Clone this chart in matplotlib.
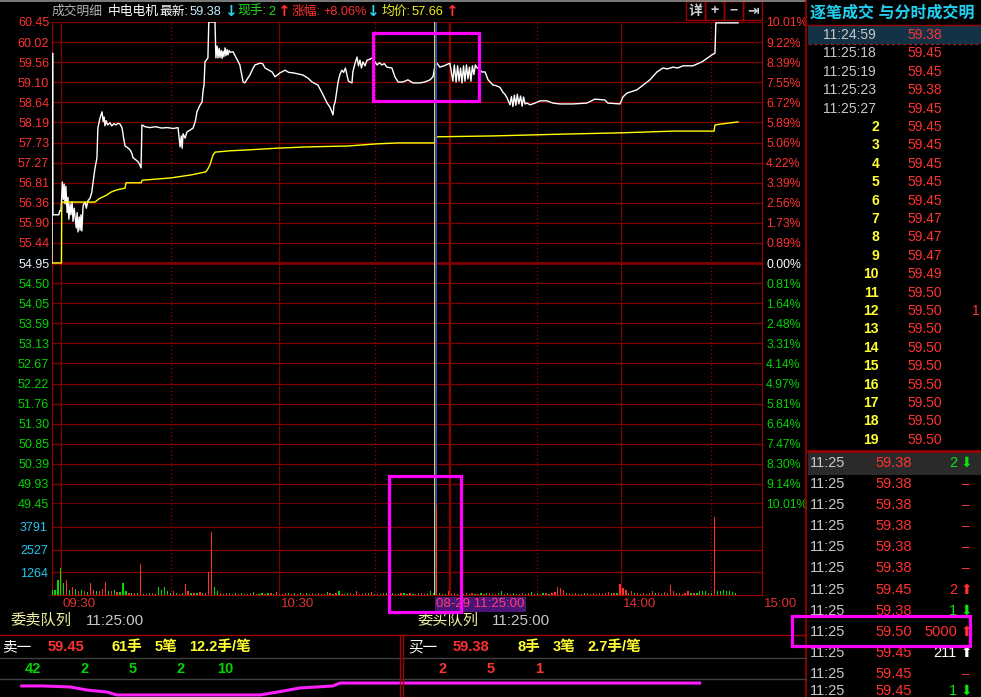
import matplotlib
matplotlib.use('Agg')
import numpy as np
import matplotlib.pyplot as plt
from matplotlib.patches import Rectangle

plt.rcParams['font.family'] = ['Liberation Sans', 'Noto Sans CJK SC', 'DejaVu Sans']

W, H = 981, 697

# ---------------- data ----------------
prev_close = 54.95
price_labels = ['60.45', '60.02', '59.56', '59.10', '58.64', '58.19', '57.73', '57.27',
                '56.81', '56.36', '55.90', '55.44', '54.95', '54.50', '54.05', '53.59',
                '53.13', '52.67', '52.22', '51.76', '51.30', '50.85', '50.39', '49.93', '49.45']
pct_labels = ['10.01%', '9.22%', '8.39%', '7.55%', '6.72%', '5.89%', '5.06%', '4.22%',
              '3.39%', '2.56%', '1.73%', '0.89%', '0.00%', '0.81%', '1.64%', '2.48%',
              '3.31%', '4.14%', '4.97%', '5.81%', '6.64%', '7.47%', '8.30%', '9.14%', '10.01%']
vol_ticks = [1264, 2527, 3791]

# time axis in "minute index" units (0..240)
time_solid = [3.0, 76.7, 192.3]
time_dotted = [40.2, 109.2, 163.9, 222.7]
noon_break = 134.5
time_labels = [(3.0, '09:30'), (76.7, '10:30'), (192.3, '14:00'), (240.0, '15:00')]
cursor_t = 129.7
cursor_label = '08-29 11:25:00'

price_path = [
    (0.0, 54.95), (0.1, 57.65), (0.2, 59.74), (0.3, 56.05), (2.3, 56.05), (2.6, 56.14),
    (3.0, 56.14), (3.2, 56.34), (3.5, 56.80), (3.8, 56.40), (4.1, 56.75), (4.4, 56.30),
    (4.7, 56.70), (5.1, 56.10), (5.4, 56.45), (5.7, 55.95), (6.1, 56.30), (6.4, 56.05),
    (6.8, 56.35), (7.1, 55.90), (7.5, 56.20), (7.8, 56.00), (8.2, 55.75), (8.5, 56.10),
    (8.8, 55.66), (9.2, 56.00), (9.5, 55.70), (9.8, 56.05), (10.1, 55.68), (10.5, 56.25),
    (10.8, 56.30), (11.2, 56.34), (11.6, 56.20), (12.2, 56.38), (12.8, 56.42), (13.4, 56.55),
    (13.9, 56.80), (14.5, 57.10), (15.2, 57.35), (15.5, 58.03), (16.2, 58.25), (16.9, 58.40),
    (17.3, 58.18), (17.6, 58.28), (17.9, 58.08), (18.3, 58.20), (18.8, 58.10), (19.6, 58.15),
    (20.2, 58.08), (21.0, 58.13), (21.6, 58.10), (22.3, 58.14), (23.0, 58.12), (23.7, 58.03),
    (24.2, 57.80), (24.7, 57.62), (25.6, 57.58), (26.4, 57.53), (27.0, 57.45), (27.4, 57.35),
    (28.4, 57.30), (29.1, 57.26), (29.6, 57.20), (30.1, 57.12), (30.4, 58.10), (31.5, 58.06),
    (33.0, 58.04), (35.0, 58.06), (37.0, 58.03), (39.0, 58.04), (41.0, 58.02), (42.6, 58.04),
    (43.0, 57.80), (43.3, 57.60), (43.7, 57.85), (44.0, 57.57), (44.3, 57.90), (45.0, 57.80),
    (45.6, 57.94), (46.6, 57.98), (47.7, 58.03), (48.5, 58.20), (49.0, 58.40), (50.0, 58.55),
    (50.7, 58.62), (51.1, 58.90), (51.4, 59.01), (51.7, 59.54), (52.4, 59.60), (52.7, 59.63),
    (53.0, 60.45), (55.1, 60.45), (55.4, 59.63), (55.8, 59.90), (56.1, 59.63), (56.5, 59.85),
    (56.8, 59.64), (57.2, 59.80), (57.5, 59.62), (57.8, 59.78), (58.1, 59.66), (58.5, 59.86),
    (58.8, 59.68), (59.2, 59.82), (59.5, 59.70), (59.9, 59.80), (60.2, 59.76), (61.2, 59.77),
    (62.5, 59.60), (63.5, 59.47), (64.6, 59.08), (65.2, 59.06), (66.0, 59.15), (66.9, 59.24),
    (68.0, 59.40), (68.6, 59.47), (70.3, 59.51), (71.2, 59.50), (72.0, 59.40), (74.4, 59.31),
    (75.4, 59.20), (77.1, 59.29), (78.8, 59.35), (80.0, 59.30), (81.5, 59.29), (84.8, 59.24),
    (86.5, 59.17), (87.9, 59.08), (89.9, 59.01), (91.3, 58.83), (93.0, 58.60), (94.0, 58.50),
    (94.6, 58.40), (95.0, 58.33), (95.3, 58.55), (95.7, 58.62), (96.2, 58.85), (96.7, 59.08),
    (97.3, 59.25), (98.0, 59.35), (98.6, 59.30), (99.2, 59.40), (99.7, 59.24), (100.2, 59.10),
    (100.7, 59.08), (101.4, 59.06), (101.7, 59.31), (102.4, 59.50), (103.1, 59.65), (103.6, 59.45),
    (104.1, 59.58), (104.6, 59.40), (105.1, 59.54), (105.8, 59.45), (106.5, 59.58), (107.5, 59.60),
    (108.2, 59.63), (109.9, 59.47), (110.7, 59.52), (111.5, 59.47), (112.3, 59.50), (113.2, 59.42),
    (114.9, 59.40), (115.9, 59.20), (117.0, 59.08), (118.6, 59.08), (120.3, 59.13), (122.0, 59.06),
    (124.4, 59.06), (126.0, 59.08), (127.8, 59.13), (128.8, 59.20), (129.5, 59.47), (130.0, 59.52),
    (131.1, 59.42), (132.5, 59.45), (134.5, 59.51), (135.5, 59.10), (136.0, 59.47), (136.6, 59.08),
    (137.1, 59.45), (137.6, 59.10), (138.1, 59.40), (138.6, 59.06), (139.1, 59.45), (139.6, 59.10),
    (140.1, 59.47), (140.6, 59.15), (141.1, 59.42), (141.6, 59.10), (142.1, 59.45), (142.6, 59.25),
    (143.1, 59.47), (143.7, 59.40), (144.0, 59.40), (145.3, 59.31), (146.4, 59.31), (147.4, 59.13),
    (149.1, 59.01), (150.0, 59.00), (151.4, 58.96), (152.4, 58.85), (153.1, 58.80), (153.8, 58.72),
    (154.8, 58.56), (155.3, 58.75), (155.8, 58.52), (156.3, 58.78), (156.8, 58.55), (157.3, 58.80),
    (157.8, 58.58), (158.4, 58.76), (158.9, 58.53), (159.4, 58.74), (159.9, 58.58), (160.6, 58.60),
    (161.6, 58.56), (163.3, 58.60), (164.9, 58.65), (167.3, 58.65), (169.3, 58.60), (171.7, 58.58),
    (176.1, 58.58), (180.8, 58.60), (183.5, 58.69), (186.9, 58.67), (187.9, 58.60), (192.0, 58.58),
    (193.0, 58.74), (194.4, 58.83), (197.7, 58.90), (199.8, 59.01), (202.1, 59.13), (204.5, 59.31),
    (206.5, 59.40), (208.0, 59.38), (209.9, 59.42), (211.5, 59.40), (213.3, 59.45), (216.6, 59.45),
    (219.7, 59.54), (223.1, 59.70), (224.1, 59.74), (224.4, 60.43), (231.9, 60.43),
]
avg_path = [
    (0.0, 54.95), (3.2, 54.95), (3.3, 56.32), (3.6, 56.34), (14.5, 56.34), (16.0, 56.42),
    (18.5, 56.50), (20.0, 56.57), (22.0, 56.62), (24.7, 56.66), (25.0, 56.78), (30.1, 56.78),
    (30.5, 56.84), (40.0, 56.89), (47.0, 56.96), (52.0, 57.03), (52.7, 57.10), (53.4, 57.19),
    (54.4, 57.41), (55.1, 57.48), (60.0, 57.51), (66.0, 57.53), (76.0, 57.57), (86.5, 57.60),
    (100.0, 57.62), (110.0, 57.67), (117.0, 57.69), (129.3, 57.69), (129.6, 57.80), (130.0, 57.83),
    (149.0, 57.85), (172.0, 57.89), (192.0, 57.92), (210.0, 57.96), (223.8, 57.96), (224.1, 58.10),
    (226.0, 58.12), (231.9, 58.17),
]
price_x = [a for a, _ in price_path]
price_y = [b for _, b in price_path]
avg_x = [a for a, _ in avg_path]
avg_y = [b for _, b in avg_path]

volume = [
    280, 300, 830, 1480, 660, 820, 300, 420, 350, 250,
    280, 200, 180, 650, 300, 250, 200, 350, 700, 250,
    200, 300, 180, 150, 650, 200, 100, 120, 90, 110,
    1700, 80, 60, 100, 90, 70, 460, 300, 460, 200,
    100, 200, 100, 80, 120, 600, 200, 100, 120, 90,
    150, 90, 100, 1290, 3520, 430, 250, 100, 80, 120,
    90, 60, 110, 70, 130, 80, 60, 100, 150, 70,
    80, 120, 60, 90, 100, 70, 140, 80, 60, 110,
    90, 70, 120, 60, 100, 80, 130, 70, 90, 60,
    110, 80, 60, 140, 90, 70, 100, 220, 80, 60,
    120, 90, 70, 200, 80, 60, 110, 90, 150, 70,
    80, 60, 120, 90, 70, 100, 80, 60, 110, 90,
    70, 120, 80, 60, 100, 90, 70, 110, 200, 120,
    5000, 90, 70, 80, 250, 60, 100, 80, 120, 70,
    90, 60, 110, 80, 70, 100, 60, 90, 120, 80,
    70, 100, 200, 60, 90, 80, 110, 70, 60, 120,
    80, 90, 180, 70, 100, 60, 120, 90, 80, 110,
    150, 460, 400, 280, 90, 120, 70, 100, 80, 60,
    110, 90, 70, 120, 80, 100, 60, 90, 150, 110,
    120, 90, 600, 400, 300, 100, 250, 90, 120, 80,
    100, 70, 120, 250, 90, 110, 80, 150, 100, 550,
    200, 90, 120, 80, 110, 200, 90, 120, 100, 250,
    250, 220, 120, 90, 4340, 250, 200, 300, 200, 250,
    150, 100,
]
volume_dir = ("gggggrgrgr" "grgrrgrrrg" "rgrgggrgrg" "rgrgrggggg" "grgrgrrgrg"
              "rgrrrggrgr" "grgrgrgrgr" "ggrgrgrgrr" "grgrgrggrg" "rgrgrgrgrg"
              "grgrrgrgrg" "rgrgrgrgrg" "grgrgrgrgg" "rgrgrgrgrg" "rgrgrgrgrg"
              "rggrgrgrgr" "grgrgrgrgr" "rrrrgrgrgr" "grgrgrgrrg" "rgrrrgrgrg"
              "rgrrgrgrgr" "rgrgrrgrgg" "ggrgrggggg" "gg")

header = [('成交明细', '#b4b4b4'), ('中电电机', '#ffffff'), ('最新:', '#ffffff'),
          ('59.38', '#c8f0ff'), ('↓', '#30d0f0'), ('现手:', '#20e020'), ('2', '#20e020'),
          ('↑', '#ff3030'), ('涨幅:', '#ff3030'), ('+8.06%', '#ff3030'), ('↓', '#30d0f0'),
          ('均价:', '#f0f020'), ('57.66', '#f0f020'), ('↑', '#ff3030')]
header_x = [52, 108, 159, 190, 224, 237, 268, 277, 292, 323, 366, 382, 412, 445]

tick_times = ['11:24:59', '11:25:18', '11:25:19', '11:25:23', '11:25:27']
tick_seq = [str(i) for i in range(2, 20)]
tick_prices = ['59.38', '59.45', '59.45', '59.38', '59.45',
               '59.45', '59.45', '59.45', '59.45', '59.45',
               '59.47', '59.47', '59.47', '59.49',
               '59.50', '59.50', '59.50', '59.50', '59.50', '59.50', '59.50', '59.50', '59.50']

minute_prices = ['59.38', '59.38', '59.38', '59.38', '59.38', '59.38',
                 '59.45', '59.38', '59.50', '59.45', '59.45', '59.45']
minute_vols = ['2', '–', '–', '–', '–', '–', '2', '1', '5000', '211', '–', '1']
minute_dirs = ['down', '', '', '', '', '', 'up', 'down', 'up', 'upw', '', 'down']

sell_head = ['卖一', '59.45', '61手', '5笔', '12.2手/笔']
sell_queue = ['42', '2', '5', '2', '10']
buy_head = ['买一', '59.38', '8手', '3笔', '2.7手/笔']
buy_queue = ['2', '5', '1']
queue_curve_x = [2.7, 5.3, 8.7, 10.8, 13.3, 14.5, 32.3, 34.4, 37.2, 39.3, 41.3, 42.2, 86.8]
queue_curve_y = [6.5, 6.5, 5.9, 4.1, 2.9, 1.2, 1.2, 2.9, 5.3, 5.9, 6.5, 8.2, 8.2]

# ---------------- style ----------------
GRID = '#800000'
RED = '#ff3232'
GREEN = '#00d400'
CYAN = '#20c8f0'
GRAY = '#c8c8c8'
YEL = '#ffff30'


def rect(l, t, r, b):
    return [l / W, 1 - b / H, (r - l) / W, (b - t) / H]


fig = plt.figure(figsize=(W / 100, H / 100), dpi=100, facecolor='black')

ax = fig.add_axes(rect(52, 22, 762, 504))
axv = fig.add_axes(rect(52, 504, 762, 595))
for a in (ax, axv):
    a.set_facecolor('black')
    a.set_xlim(0, 240)
    for s in a.spines.values():
        s.set_visible(False)
    a.spines['left'].set_visible(True)
    a.spines['left'].set_color('#a00000')
    a.spines['right'].set_visible(True)
    a.spines['right'].set_color('#a00000')
    a.set_xticks([])
    for t in time_solid:
        a.axvline(t, color=GRID, lw=0.9, zorder=1)
    for t in time_dotted:
        a.axvline(t, color='#a00000', lw=0.9, ls=(0, (1, 2)), zorder=1)
    a.axvline(noon_break, color='#900000', lw=1.6, zorder=1)
    # cursor: thin yellow marker with the blue crosshair just right of it
    a.axvline(cursor_t - 0.65, color='#e8e800', lw=0.7, zorder=5)
    a.axvline(cursor_t, color='#3048ff', lw=1.3, zorder=6)
axv.spines['bottom'].set_visible(True)
axv.spines['bottom'].set_color('#a00000')

# price pane
ax.set_ylim(49.45, 60.45)
grid_pos = np.linspace(60.45, 49.45, len(price_labels))
zero_i = price_labels.index('54.95')
for i, y in enumerate(grid_pos):
    lw = 2.0 if i in (zero_i, len(grid_pos) - 1) else 0.9
    ax.axhline(y, color=GRID, lw=lw, zorder=1)
ax.set_yticks(grid_pos)
ax.set_yticklabels(price_labels)
ax.tick_params(axis='y', length=0, pad=2, labelsize=9)
for i, lab in enumerate(ax.get_yticklabels()):
    lab.set_color(RED if i < zero_i else ('#e6f2ff' if i == zero_i else GREEN))

ax2 = ax.twinx()
ax2.set_ylim(49.45, 60.45)
for s in ax2.spines.values():
    s.set_visible(False)
ax2.set_yticks(grid_pos)
ax2.set_yticklabels(pct_labels)
ax2.tick_params(axis='y', length=0, pad=3, labelsize=8.8)
for i, lab in enumerate(ax2.get_yticklabels()):
    lab.set_color(RED if i < zero_i else ('#ffffff' if i == zero_i else GREEN))

ax.plot(price_x, price_y, color='white', lw=1.0, zorder=4)
ax.plot(avg_x, avg_y, color='#ffff00', lw=1.0, zorder=4)

# volume pane
axv.set_ylim(0, 5056)
for v in vol_ticks:
    axv.axhline(v, color=GRID, lw=0.9, zorder=1)
axv.set_yticks(vol_ticks)
axv.set_yticklabels([str(v) for v in vol_ticks])
axv.tick_params(axis='y', length=0, pad=3, labelsize=9, labelcolor=CYAN)
bar_colors = ['#ff3030' if d == 'r' else '#00e000' for d in volume_dir]
axv.bar(np.arange(len(volume)), volume, width=0.4, color=bar_colors, zorder=7)

xt = axv.get_xaxis_transform()
for t, s in time_labels:
    axv.text(t + 0.6, -0.1, s, transform=xt, color='#e03030', fontsize=9.5,
             ha='left', va='center', clip_on=False)
axv.text(cursor_t + 0.2, -0.1, cursor_label, transform=xt, color='#ff4070', fontsize=9.5,
         ha='left', va='center', clip_on=False,
         bbox=dict(boxstyle='square,pad=0.12', fc='#4a1478', ec='none'))

# overlay in pixel coordinates for panel furniture
ov = fig.add_axes([0, 0, 1, 1], zorder=10)
ov.set_xlim(0, W)
ov.set_ylim(H, 0)
ov.axis('off')
ov.patch.set_alpha(0)

ov.plot([0, 806], [0.8, 0.8], color='#909090', lw=1.2)
ov.plot([806, 806], [0, H], color='#a00000', lw=1.2)
for i, g in enumerate(['详', '+', '−', '⇥']):
    x0 = 686 + i * 19
    ov.add_patch(Rectangle((x0, 1), 19, 19, fill=False, ec='#a00000', lw=1))
    ov.text(x0 + 9.5, 11, g, color='#d0d0d0', fontsize=10, ha='center', va='center',
            fontweight='bold', family=['Noto Sans CJK SC', 'DejaVu Sans'])

for (s, c), x in zip(header, header_x):
    big = s in ('↓', '↑')
    ov.text(x, 12, s, color=c, fontsize=11 if big else 9.2, ha='left', va='center',
            fontweight='bold' if big else 'normal',
            family=['DejaVu Sans'] if big else None)

# right panel: tick list
ov.text(810, 13, '逐笔成交 与分时成交明', color='#20d0f0', fontsize=11.5,
        fontweight='bold', ha='left', va='center', clip_on=True)
ov.plot([808, W], [25, 25], color='#a00000', lw=1)
ov.add_patch(Rectangle((808, 26), W - 808, 17.5, fc='#143246', ec='none'))
ov.plot([808, W], [44, 44], color='#a02020', lw=0.8, ls=(0, (3, 2)))
labels_left = tick_times + tick_seq
for i, (lab, pr) in enumerate(zip(labels_left, tick_prices)):
    y = 35 + 18.4 * i
    if i < len(tick_times):
        ov.text(823, y, lab, color=GRAY, fontsize=10, ha='left', va='center')
    else:
        ov.text(879, y, lab, color=YEL, fontsize=10, fontweight='bold', ha='right', va='center')
    ov.text(907, y, pr, color=RED, fontsize=10, ha='left', va='center')
ov.text(972, 35 + 18.4 * 15, '1', color=RED, fontsize=10, ha='left', va='center')
ov.plot([808, W], [451, 451], color='#a00000', lw=1.8)

# right panel: minute list
ov.add_patch(Rectangle((808, 452), W - 808, 23, fc='#2a2a2a', ec='none'))
arrow_map = {'down': ('⬇', '#10e010'), 'up': ('⬆', '#ff3030'), 'upw': ('⬆', '#ffffff')}
for i, (pr, vo, d) in enumerate(zip(minute_prices, minute_vols, minute_dirs)):
    y = min(463 + 21.1 * i, 691)
    ov.text(810, y, '11:25', color=GRAY, fontsize=10.5, ha='left', va='center')
    ov.text(875, y, pr, color=RED, fontsize=10.5, ha='left', va='center')
    if vo == '–':
        ov.text(966, y, '–', color=RED, fontsize=10, ha='center', va='center')
        continue
    ac = arrow_map[d][1]
    vc = '#ffffff' if d == 'upw' else ac
    ov.text(957, y, vo, color=vc, fontsize=10.5, ha='right', va='center')
    ov.text(966, y, arrow_map[d][0], color=ac, fontsize=10, ha='center', va='center',
            family=['DejaVu Sans'])

# bottom order queue panel
ov.text(10, 621, '委卖队列', color='#f0f0a0', fontsize=11, ha='left', va='center')
ov.text(86, 621, '11:25:00', color=GRAY, fontsize=11, ha='left', va='center')
ov.text(417, 621, '委买队列', color='#f0f0a0', fontsize=11, ha='left', va='center')
ov.text(492, 621, '11:25:00', color=GRAY, fontsize=11, ha='left', va='center')
ov.plot([0, 806], [635, 635], color='#a00000', lw=1)
ov.plot([0, 806], [658, 658], color='#404040', lw=1)
ov.plot([0, 806], [679, 679], color='#404040', lw=1)
ov.plot([399.5, 399.5], [635, H], color='#a00000', lw=1)
ov.plot([402.5, 402.5], [635, H], color='#a00000', lw=1)

head_colors = ['#ffffff', RED, YEL, YEL, YEL]
for s, c, x in zip(sell_head, head_colors, [2, 48, 112, 155, 189]):
    ov.text(x, 647, s, color=c, fontsize=10.5, ha='left', va='center',
            fontweight='normal' if c == '#ffffff' else 'bold')
for s, c, x in zip(buy_head, head_colors, [408, 453, 517, 553, 588]):
    ov.text(x, 647, s, color=c, fontsize=10.5, ha='left', va='center',
            fontweight='normal' if c == '#ffffff' else 'bold')
for s, x in zip(sell_queue, [33, 85, 133, 181, 225]):
    ov.text(x, 669, s, color=GREEN, fontsize=10.5, fontweight='bold', ha='center', va='center')
for s, x in zip(buy_queue, [443, 491, 539]):
    ov.text(x, 669, s, color=RED, fontsize=10.5, fontweight='bold', ha='center', va='center')

axq = fig.add_axes(rect(0, 680, 806, 697), zorder=9)
axq.set_xlim(0, 100)
axq.set_ylim(0, 10)
axq.axis('off')
axq.plot(queue_curve_x, queue_curve_y, color='#ff20ff', lw=2.2)

# annotation boxes
for (l, t, r, b) in [(373, 33, 479, 101), (389, 476, 461, 612), (792, 616, 970, 646)]:
    ov.add_patch(Rectangle((l, t), r - l, b - t, fill=False, ec='#ff00ff', lw=2.3, zorder=20))

fig.savefig('out.png', dpi=100, facecolor='black')
